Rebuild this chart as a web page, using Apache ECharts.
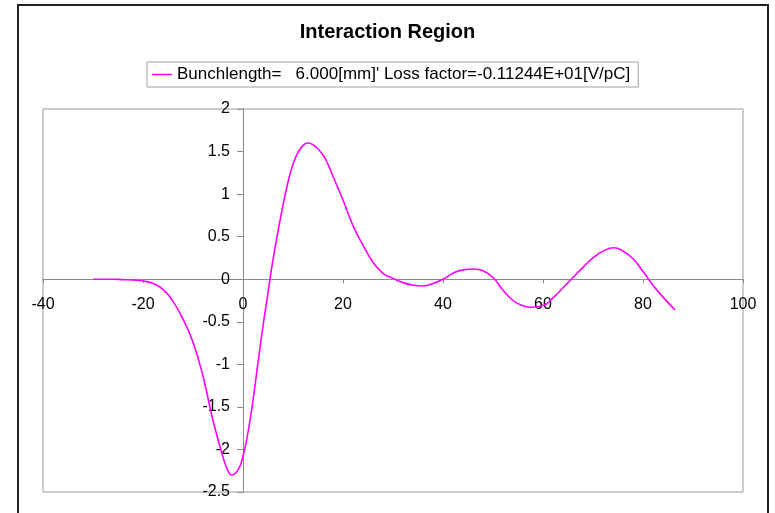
<!DOCTYPE html>
<html>
<head>
<meta charset="utf-8">
<script src="https://cdn.jsdelivr.net/npm/echarts@6/dist/echarts.min.js"></script>
<style>
  html, body { margin: 0; padding: 0; background: #fff; }
  #chart { width: 775px; height: 513px; }
</style>
</head>
<body>
<div id="chart"></div>
<script>
// Wake potential along the interaction region
const titleText = 'Interaction Region';
const seriesName = "Bunchlength=   6.000[mm]' Loss factor=-0.11244E+01[V/pC]";

// s [mm] and wake [V/pC]; each turning point is listed at its own position
const sPos = [-30, -28, -26, -24, -22, -20, -18, -16, -14, -12, -10, -8, -6, -4, -3, -2.3, -1, 0,
  1, 2, 3, 4, 5, 6, 7, 8, 9, 10, 11, 12, 12.9, 14, 15, 16, 17, 18, 19, 20, 22, 24, 26, 28, 30, 32, 34, 35.7, 38, 40,
  42, 44, 46.2, 48, 50, 52, 54, 55.5, 57.7, 60, 62, 64, 66, 68, 70, 72, 74.2, 76, 78, 80,
  82, 84, 86.4];
const wake = [0, 0, 0, -0.005, -0.01, -0.02, -0.05, -0.12, -0.26, -0.47, -0.74, -1.14, -1.66, -2.09, -2.25, -2.30, -2.24, -2.08,
  -1.80, -1.42, -0.98, -0.55, -0.16, 0.23, 0.56, 0.87, 1.14, 1.35, 1.49, 1.57, 1.60, 1.58, 1.53, 1.46, 1.35, 1.21, 1.07, 0.93,
  0.63, 0.40, 0.20, 0.07, 0.01, -0.04, -0.07, -0.08, -0.05, 0.00,
  0.07, 0.11, 0.12, 0.10, 0.02, -0.13, -0.25, -0.30, -0.33, -0.31, -0.22, -0.10, 0.02, 0.14, 0.25, 0.33, 0.37, 0.33, 0.24, 0.09,
  -0.07, -0.21, -0.36];

const xTicks = { min: -40, max: 100, step: 20 };
const yTicks = { min: -2.5, max: 2, step: 0.5 };

const points = sPos.map((s, i) => [s, wake[i]]);

// plot rectangle
const gridBox = { left: 43, top: 109, width: 700, height: 383 };

// shift both axes so they cross at the origin (labels travel with them)
const xAxisShift = -(gridBox.height * (0 - yTicks.min) / (yTicks.max - yTicks.min));
const yAxisShift = -(gridBox.width * (0 - xTicks.min) / (xTicks.max - xTicks.min));

const axisGray = '#8a8a8a';
const font = 'Liberation Sans, Arial, sans-serif';

const chart = echarts.init(document.getElementById('chart'), null, { renderer: 'canvas' });
chart.setOption({
  animation: false,
  backgroundColor: '#ffffff',
  title: {
    text: titleText,
    left: 'center',
    top: 17,
    textStyle: { fontFamily: font, fontSize: 20, fontWeight: 'bold', color: '#000' }
  },
  legend: {
    data: [seriesName],
    top: 62,
    left: 147,
    padding: [4, 8, 4, 5],
    borderColor: '#a0a0a0',
    borderWidth: 1,
    icon: 'rect',
    itemWidth: 20,
    itemHeight: 1.5,
    itemGap: 5,
    textStyle: { fontFamily: font, fontSize: 17, color: '#000' }
  },
  graphic: [{
    type: 'rect',
    shape: { x: 18, y: 5, width: 750, height: 530 },
    style: { fill: 'none', stroke: '#222', lineWidth: 2 },
    silent: true
  }],
  grid: {
    left: gridBox.left, top: gridBox.top, width: gridBox.width, height: gridBox.height,
    show: true,
    borderColor: '#999',
    borderWidth: 1,
    containLabel: false
  },
  xAxis: {
    type: 'value',
    min: xTicks.min, max: xTicks.max, interval: xTicks.step,
    offset: xAxisShift,
    axisLine: { onZero: false, lineStyle: { color: axisGray, width: 1 } },
    axisTick: { show: true, length: 4, lineStyle: { color: axisGray } },
    axisLabel: { margin: 17, fontFamily: font, fontSize: 16, color: '#000' },
    splitLine: { show: false }
  },
  yAxis: {
    type: 'value',
    min: yTicks.min, max: yTicks.max, interval: yTicks.step,
    offset: yAxisShift,
    axisLine: { onZero: false, lineStyle: { color: axisGray, width: 1 } },
    axisTick: { show: true, length: 6, lineStyle: { color: axisGray } },
    axisLabel: { margin: 13, fontFamily: font, fontSize: 16, color: '#000' },
    splitLine: { show: false }
  },
  series: [{
    name: seriesName,
    type: 'line',
    data: points,
    smooth: 0.5,
    showSymbol: false,
    symbol: 'none',
    lineStyle: { color: '#ff00ff', width: 1.6 },
    itemStyle: { color: '#ff00ff' }
  }]
});
</script>
</body>
</html>
